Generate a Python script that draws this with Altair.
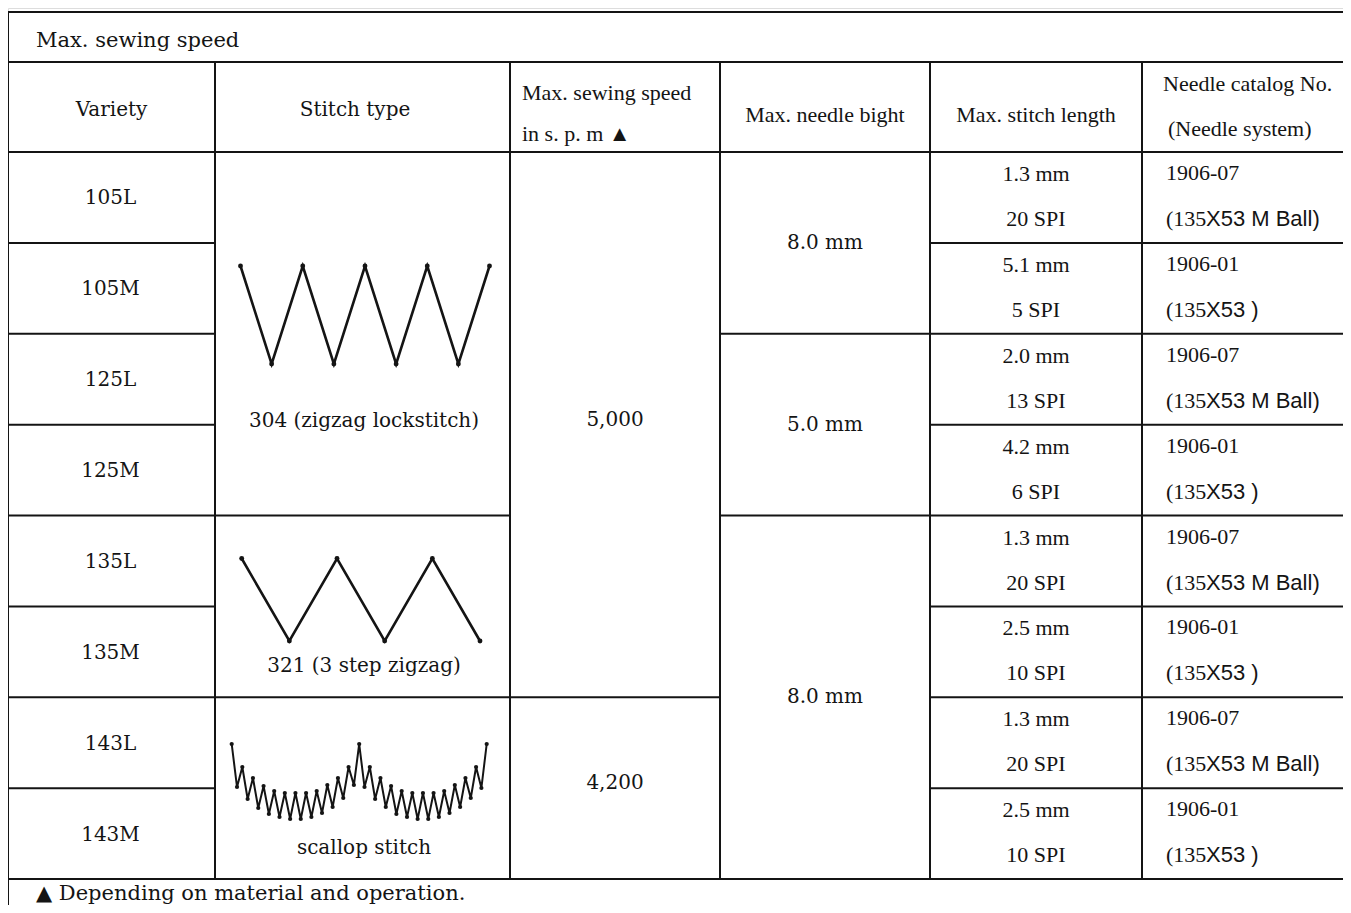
import altair as alt
import pandas as pd

# ---------------- content ----------------
title_text = "Max. sewing speed"
footer_text = "▲ Depending on material and operation."
head_variety = "Variety"
head_stitch = "Stitch type"
head_speed = ["Max. sewing speed", "in s. p. m  ▲"]
head_bight = "Max. needle bight"
head_length = "Max. stitch length"
head_needle = ["Needle catalog No.", "(Needle system)"]

varieties = ["105L", "105M", "125L", "125M", "135L", "135M", "143L", "143M"]
stitch_types = ["304 (zigzag lockstitch)", "321 (3 step zigzag)", "scallop stitch"]
stitch_spans = [4, 2, 2]
speeds = ["5,000", "4,200"]
speed_spans = [6, 2]
bights = ["8.0 mm", "5.0 mm", "8.0 mm"]
bight_spans = [2, 2, 4]
length_mm = ["1.3 mm", "5.1 mm", "2.0 mm", "4.2 mm", "1.3 mm", "2.5 mm", "1.3 mm", "2.5 mm"]
length_spi = ["20 SPI", "5 SPI", "13 SPI", "6 SPI", "20 SPI", "10 SPI", "20 SPI", "10 SPI"]
needle_no = ["1906-07", "1906-01", "1906-07", "1906-01", "1906-07", "1906-01", "1906-07", "1906-01"]
needle_sys_a = ["(135"] * 8
needle_sys_b = ["X53 M Ball)", "X53 )", "X53 M Ball)", "X53 )",
                "X53 M Ball)", "X53 )", "X53 M Ball)", "X53 )"]

# stitch drawings (shape data)
zig304_level = [0, 1, 0, 1, 0, 1, 0, 1, 0]
zig321_level = [0, 1, 0, 1, 0, 1]
scallop_depth = [0, 43, 23, 55, 34, 64, 42, 70, 47, 73, 49, 75, 49, 75, 49, 73, 47, 69, 41, 63,
                 34, 54, 23, 41, 0, 43, 23, 55, 34, 63, 42, 70, 47, 73, 49, 75, 49, 75, 49, 73,
                 47, 69, 41, 63, 34, 54, 23, 44, 0]

# ---------------- layout (page pixel coordinates) ----------------
X_MIN, X_MAX = 8, 1343
Y_MIN, Y_MAX = 8, 905
X_EDGES = [8, 215, 510, 720, 930, 1142, X_MAX]
Y_TOP, Y_TITLE, Y_HEAD, Y_FOOT = 12, 62, 152, 879
NROW = 8
ROW_H = (Y_FOOT - Y_HEAD) / NROW
INK = "#141414"
CENTURY = "DejaVu Serif"
TIMES = "Liberation Serif"
SANS = "Liberation Sans"

XS = alt.Scale(domain=[X_MIN, X_MAX], nice=False, zero=False)
YS = alt.Scale(domain=[Y_MIN, Y_MAX], nice=False, zero=False, reverse=True)


def ry(k):
    return Y_HEAD + k * ROW_H


# grid segments
segs = []
for yy in [Y_TOP, Y_TITLE, Y_HEAD, Y_FOOT]:
    segs.append(dict(x=X_EDGES[0], x2=X_EDGES[-1], y=yy, y2=yy))
segs.append(dict(x=X_EDGES[0], x2=X_EDGES[0], y=Y_TOP, y2=Y_MAX))
for xx in X_EDGES[1:-1]:
    segs.append(dict(x=xx, x2=xx, y=Y_TITLE, y2=Y_FOOT))
col_spans = [[1] * 8, stitch_spans, speed_spans, bight_spans, [1] * 8, [1] * 8]
for c, spans in enumerate(col_spans):
    acc = 0
    for s in spans[:-1]:
        acc += s
        segs.append(dict(x=X_EDGES[c], x2=X_EDGES[c + 1], y=ry(acc), y2=ry(acc)))
seg_df = pd.DataFrame(segs)


def centers(spans):
    out, acc = [], 0
    for s in spans:
        out.append((ry(acc) + ry(acc + s)) / 2)
        acc += s
    return out


def cx(c):
    return (X_EDGES[c] + X_EDGES[c + 1]) / 2


# text tables
cent_c = []  # century-like, centered
cent_c += [dict(x=cx(0), y=110, t=head_variety), dict(x=355, y=110, t=head_stitch)]
for i, v in enumerate(varieties):
    cent_c.append(dict(x=cx(0) - 1, y=(ry(i) + ry(i + 1)) / 2 + 1, t=v))
stitch_label_off = [95, 31, 31]
acc = 0
for s, lab, off in zip(stitch_spans, stitch_types, stitch_label_off):
    acc += s
    cent_c.append(dict(x=364, y=ry(acc) - off, t=lab))
for v, yy in zip(speeds, centers(speed_spans)):
    cent_c.append(dict(x=615, y=yy - 5, t=v))
for v, yy in zip(bights, centers(bight_spans)):
    cent_c.append(dict(x=825, y=yy, t=v))
cent_l = [dict(x=36, y=41, t=title_text)]
foot_l = [dict(x=36, y=900, t=footer_text)]

times_c = [dict(x=825, y=115, t=head_bight), dict(x=1036, y=115, t=head_length)]
times_l = [dict(x=522, y=93, t=head_speed[0]), dict(x=522, y=134, t=head_speed[1]),
           dict(x=1163, y=84, t=head_needle[0]), dict(x=1168, y=129, t=head_needle[1])]
sans_l = []
for i in range(NROW):
    times_c.append(dict(x=1036, y=ry(i) + 22, t=length_mm[i]))
    times_c.append(dict(x=1036, y=ry(i) + 67, t=length_spi[i]))
    times_l.append(dict(x=1166, y=ry(i) + 21, t=needle_no[i]))
    times_l.append(dict(x=1166, y=ry(i) + 67, t=needle_sys_a[i]))
    sans_l.append(dict(x=1206, y=ry(i) + 67, t=needle_sys_b[i]))

# drawings
draw = []
x0, x1, top, depth = 240.5, 489.5, 266, 98
for i, lv in enumerate(zig304_level):
    draw.append(dict(shape="304", i=i, x=x0 + i * (x1 - x0) / (len(zig304_level) - 1), y=top + lv * depth))
x0, x1, top, depth = 241.7, 480, 558.5, 82.5
for i, lv in enumerate(zig321_level):
    draw.append(dict(shape="321", i=i, x=x0 + i * (x1 - x0) / (len(zig321_level) - 1), y=top + lv * depth))
zig_df = pd.DataFrame(draw)
x0, x1, top = 231.7, 486.7, 744
sc_df = pd.DataFrame([dict(shape="scallop", i=i, x=x0 + i * (x1 - x0) / (len(scallop_depth) - 1), y=top + d)
                      for i, d in enumerate(scallop_depth)])

X = alt.X("x:Q", scale=XS, axis=None)
Y = alt.Y("y:Q", scale=YS, axis=None)


def text_layer(rows, font, size, align, baseline="middle"):
    return alt.Chart(pd.DataFrame(rows)).mark_text(
        font=font, fontSize=size, align=align, baseline=baseline, color=INK
    ).encode(x=X, y=Y, text="t:N")


grid = alt.Chart(seg_df).mark_rule(color=INK, strokeWidth=2).encode(
    x=X, x2="x2:Q", y=Y, y2="y2:Q")
zig_line = alt.Chart(zig_df).mark_line(color=INK, strokeWidth=2.6, strokeJoin="miter").encode(
    x=X, y=Y, detail="shape:N", order="i:Q")
zig_dot = alt.Chart(zig_df).mark_circle(color=INK, size=24, opacity=1).encode(x=X, y=Y)
sc_line = alt.Chart(sc_df).mark_line(color=INK, strokeWidth=2, strokeJoin="miter").encode(
    x=X, y=Y, detail="shape:N", order="i:Q")
sc_dot = alt.Chart(sc_df).mark_circle(color=INK, size=18, opacity=1).encode(x=X, y=Y)

chart = alt.layer(
    grid, zig_line, zig_dot, sc_line, sc_dot,
    text_layer(cent_c, CENTURY, 20, "center"),
    text_layer(cent_l, CENTURY, 21, "left"),
    text_layer(foot_l, CENTURY, 21, "left", baseline="alphabetic"),
    text_layer(times_c, TIMES, 22, "center"),
    text_layer(times_l, TIMES, 22, "left"),
    text_layer(sans_l, SANS, 22, "left"),
).properties(
    width=X_MAX - X_MIN, height=Y_MAX - Y_MIN,
    autosize=alt.AutoSizeParams(type="none"),
    padding=0,
).configure_view(stroke=None).configure(background="white")

chart.save("out.html", embed_options={"renderer": "svg", "actions": False})
